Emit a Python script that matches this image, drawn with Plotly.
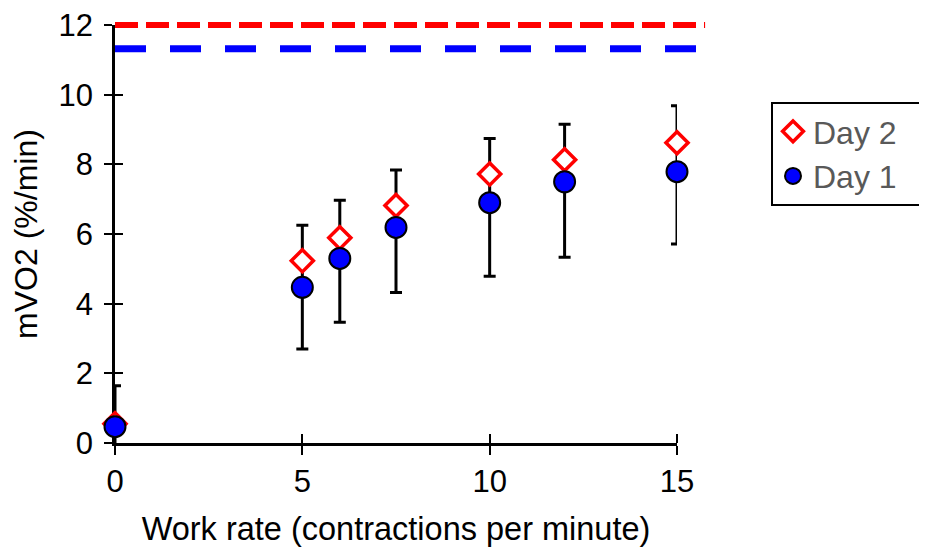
import plotly.graph_objects as go

# ---- data ----
work_rate = [0, 5, 6, 7.5, 10, 12, 15]
day1 = [0.47, 4.47, 5.30, 6.19, 6.90, 7.50, 7.79]
day1_err_plus = [1.17, 1.78, 1.67, 1.65, 1.84, 1.65, 1.89]
day1_err_minus = [1.17, 1.77, 1.83, 1.87, 2.11, 2.17, 2.08]
day2 = [0.55, 5.23, 5.89, 6.82, 7.72, 8.13, 8.62]
ref_day2 = 12.0
ref_day1 = 11.32
ref_x = [0, 15.75]
x_ticks = [0, 5, 10, 15]
y_ticks = [0, 2, 4, 6, 8, 10, 12]
series_names = ["Day 2", "Day 1"]

W, H = 927, 547
OFF = 8  # page body margin offset
ML, MR, MT, MB = 115 - OFF, 212 + OFF, 8 - OFF, 104 + OFF
plot_w = W - ML - MR
plot_h = H - MT - MB
x_axis_px = 562   # pixel length of 0..15
y_axis_px = 418   # pixel length of 0..12
xfrac = x_axis_px / plot_w
yfrac = y_axis_px / plot_h

FONT = "Liberation Sans, Arial, sans-serif"
PAD = "\u00a0\u00a0\u00a0"  # extra room on the right of the legend box

fig = go.Figure()

# error bars (clipped to the 0..15 / 0..12 box)
fig.add_trace(go.Scatter(
    x=work_rate, y=day1, mode="markers", xaxis="x", yaxis="y",
    marker=dict(size=1, opacity=0), showlegend=False, hoverinfo="skip",
    error_y=dict(type="data", array=day1_err_plus, arrayminus=day1_err_minus,
                 color="black", thickness=3, width=6),
))

# reference dashed lines
fig.add_trace(go.Scatter(
    x=ref_x, y=[ref_day2, ref_day2], mode="lines", xaxis="x2", yaxis="y2",
    line=dict(color="#ff0000", width=6, dash="23px,8px"), showlegend=False,
))
fig.add_trace(go.Scatter(
    x=ref_x, y=[ref_day1, ref_day1], mode="lines", xaxis="x2", yaxis="y2",
    line=dict(color="#0000ff", width=7, dash="31px,24px"), showlegend=False,
))

fig.add_trace(go.Scatter(
    x=work_rate, y=day2, mode="markers", name=series_names[0] + PAD,
    xaxis="x2", yaxis="y2", cliponaxis=False,
    marker=dict(symbol="diamond", size=17, color="white",
                line=dict(color="#ff0000", width=3.5)),
))
fig.add_trace(go.Scatter(
    x=work_rate, y=day1, mode="markers", name=series_names[1] + PAD,
    xaxis="x2", yaxis="y2", cliponaxis=False,
    marker=dict(symbol="circle", size=21, color="#0000ff",
                line=dict(color="black", width=2)),
))

fig.update_layout(
    width=W, height=H,
    margin=dict(l=ML, r=MR, t=MT, b=MB, pad=0, autoexpand=False),
    paper_bgcolor="white", plot_bgcolor="rgba(0,0,0,0)",
    font=dict(family=FONT, color="black"),
    xaxis=dict(domain=[0, xfrac], range=[0, 15], anchor="y", automargin=False,
               showline=True, linecolor="black", linewidth=2.5,
               ticks="outside", ticklen=9, tickwidth=2, tickcolor="black",
               tickvals=x_ticks, tickfont=dict(size=31, color="black"),
               ticklabeloverflow="allow",
               showgrid=False, zeroline=False,
               title=dict(text="Work rate (contractions per minute)",
                          font=dict(size=32.5, color="black"), standoff=20)),
    yaxis=dict(domain=[0, yfrac], range=[0, 12], anchor="x", automargin=False,
               showline=True, linecolor="black", linewidth=2.5,
               ticks="outside", ticklen=8, tickwidth=2, tickcolor="black",
               tickvals=y_ticks, tickfont=dict(size=31, color="black"),
               ticklabelstandoff=5, ticklabeloverflow="allow",
               showgrid=False, zeroline=False,
               title=dict(text="mVO2 (%/min)",
                          font=dict(size=32, color="black"), standoff=12)),
    xaxis2=dict(domain=[0, 1], range=[0, 15 * plot_w / x_axis_px], anchor="y2",
                automargin=False,
                showline=False, ticks="inside", ticklen=9, tickwidth=2,
                tickcolor="black", tickvals=x_ticks, showticklabels=False,
                showgrid=False, zeroline=False, layer="below traces"),
    yaxis2=dict(domain=[0, 1], range=[0, 12 * plot_h / y_axis_px], anchor="x2",
                automargin=False,
                showline=False, ticks="inside", ticklen=8, tickwidth=2,
                tickcolor="black", tickvals=y_ticks, showticklabels=False,
                showgrid=False, zeroline=False, layer="below traces"),
    legend=dict(x=(771 - OFF - ML) / plot_w, y=(H - MB - (102 - OFF)) / plot_h,
                xanchor="left", yanchor="top",
                bordercolor="black", borderwidth=2, bgcolor="white",
                font=dict(size=32, color="#595959", family=FONT),
                itemsizing="trace"),
    showlegend=True,
)

fig.write_html("out.html")
